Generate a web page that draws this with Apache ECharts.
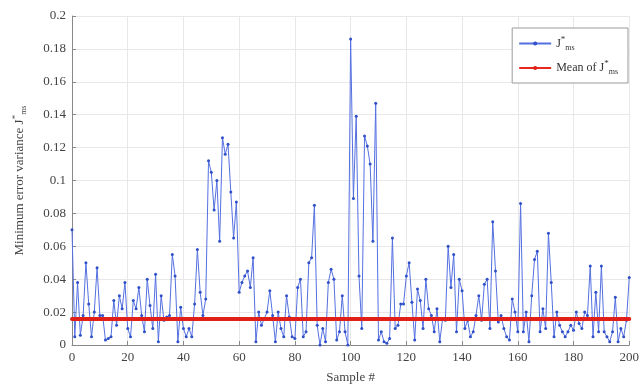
<!DOCTYPE html>
<html><head><meta charset="utf-8">
<script src="https://cdn.jsdelivr.net/npm/echarts@6/dist/echarts.min.js"></script>
<style>html,body{margin:0;padding:0;background:#fff}#c{width:642px;height:391px}</style>
</head><body><div id="c"></div>
<script>
const xTicks = [0,20,40,60,80,100,120,140,160,180,200];
const yTicks = [0,0.02,0.04,0.06,0.08,0.1,0.12,0.14,0.16,0.18,0.2];
const jms = [
0.070,0.005,0.038,0.006,0.018,0.050,0.025,0.005,0.020,0.047,
0.018,0.018,0.003,0.004,0.005,0.027,0.012,0.030,0.022,0.038,
0.010,0.005,0.027,0.022,0.035,0.018,0.008,0.040,0.024,0.010,
0.043,0.002,0.030,0.015,0.017,0.018,0.055,0.042,0.002,0.023,
0.010,0.005,0.010,0.005,0.025,0.058,0.032,0.018,0.028,0.112,
0.105,0.082,0.100,0.063,0.126,0.116,0.122,0.093,0.065,0.087,
0.032,0.038,0.042,0.045,0.035,0.053,0.002,0.020,0.012,0.016,
0.020,0.033,0.018,0.002,0.020,0.010,0.005,0.030,0.017,0.005,
0.004,0.035,0.040,0.005,0.008,0.050,0.053,0.085,0.012,0.000,
0.010,0.002,0.038,0.046,0.040,0.003,0.008,0.030,0.008,0.000,
0.186,0.089,0.139,0.042,0.010,0.127,0.121,0.110,0.063,0.147,
0.003,0.008,0.002,0.001,0.004,0.065,0.010,0.012,0.025,0.025,
0.042,0.050,0.026,0.003,0.034,0.027,0.010,0.040,0.022,0.018,
0.008,0.022,0.002,0.016,0.015,0.060,0.035,0.055,0.008,0.040,
0.033,0.010,0.015,0.005,0.008,0.018,0.030,0.015,0.037,0.040,
0.010,0.075,0.045,0.014,0.018,0.010,0.005,0.003,0.028,0.020,
0.008,0.086,0.008,0.020,0.002,0.030,0.052,0.057,0.008,0.022,
0.010,0.068,0.038,0.005,0.020,0.012,0.008,0.005,0.008,0.012,
0.009,0.020,0.013,0.010,0.020,0.018,0.048,0.005,0.032,0.008,
0.048,0.008,0.005,0.002,0.008,0.029,0.002,0.010,0.005,0.015,
0.041];
const meanValue = 0.0158;

const lineData = jms.map((v,i)=>[i,v]);
const meanData = jms.map((v,i)=>[i,meanValue]);

const font = 'Liberation Serif';
const rich = {
  s:{fontFamily:font,fontSize:9,color:'#333',verticalAlign:'top',padding:[0,0,8,0]},
  b:{fontFamily:font,fontSize:8,color:'#333',padding:[8,0,0,0]},
  n:{fontFamily:font,fontSize:12,color:'#333'}
};
const chart = echarts.init(document.getElementById('c'),null,{renderer:'canvas'});
chart.setOption({
  animation:false,
  backgroundColor:'#fff',
  grid:{left:72,right:10,top:16,bottom:46,containLabel:false},
  legend:{
    right:14, top:28, orient:'vertical', itemWidth:32, itemHeight:5, itemGap:8,
    backgroundColor:'#fff', borderColor:'#9a9a9a', borderWidth:1, padding:[7,10,7,6],
    textStyle:{fontFamily:font,fontSize:12,color:'#333',rich:rich},
    formatter:function(name){
      if(name==='J*ms') return '{n|J}{s|*}{b|ms}';
      return '{n|Mean of J}{s|*}{b|ms}';
    },
    data:[{name:'J*ms'},{name:'Mean'}]
  },
  xAxis:{
    type:'value', min:0, max:200, interval:20,
    name:'Sample #', nameLocation:'middle', nameGap:26,
    nameTextStyle:{fontFamily:font,fontSize:13,color:'#444'},
    axisLine:{show:true,lineStyle:{color:'#888'}},
    axisTick:{show:true,inside:true,length:4,lineStyle:{color:'#888'}},
    axisLabel:{fontFamily:font,fontSize:13,color:'#444',margin:6},
    splitLine:{show:true,lineStyle:{color:'#e8e8e8'}}
  },
  yAxis:{
    type:'value', min:0, max:0.2, interval:0.02,
    name:'{n|Minimum error variance J}{s|*}{b|ms}', nameLocation:'middle', nameGap:44,
    nameTextStyle:{fontFamily:font,fontSize:13,color:'#444',rich:{
      n:{fontFamily:font,fontSize:13,color:'#444'},
      s:{fontFamily:font,fontSize:9,color:'#444',padding:[0,0,8,0]},
      b:{fontFamily:font,fontSize:8,color:'#444',padding:[8,0,0,0]}
    }},
    axisLine:{show:true,lineStyle:{color:'#888'}},
    axisTick:{show:true,inside:true,length:4,lineStyle:{color:'#888'}},
    axisLabel:{fontFamily:font,fontSize:13,color:'#444',margin:6,
      formatter:v=>String(+v.toFixed(2))},
    splitLine:{show:true,lineStyle:{color:'#e8e8e8'}}
  },
  series:[
    {name:'J*ms', type:'line', data:lineData, symbol:'circle', symbolSize:3,
     lineStyle:{color:'#5470e0',width:1}, itemStyle:{color:'#3050c8'}, z:3},
    {name:'Mean', type:'line', data:meanData, symbol:'circle', symbolSize:4,
     lineStyle:{color:'#e8281e',width:4}, itemStyle:{color:'#e02018'}, z:4}
  ]
});
</script></body></html>
